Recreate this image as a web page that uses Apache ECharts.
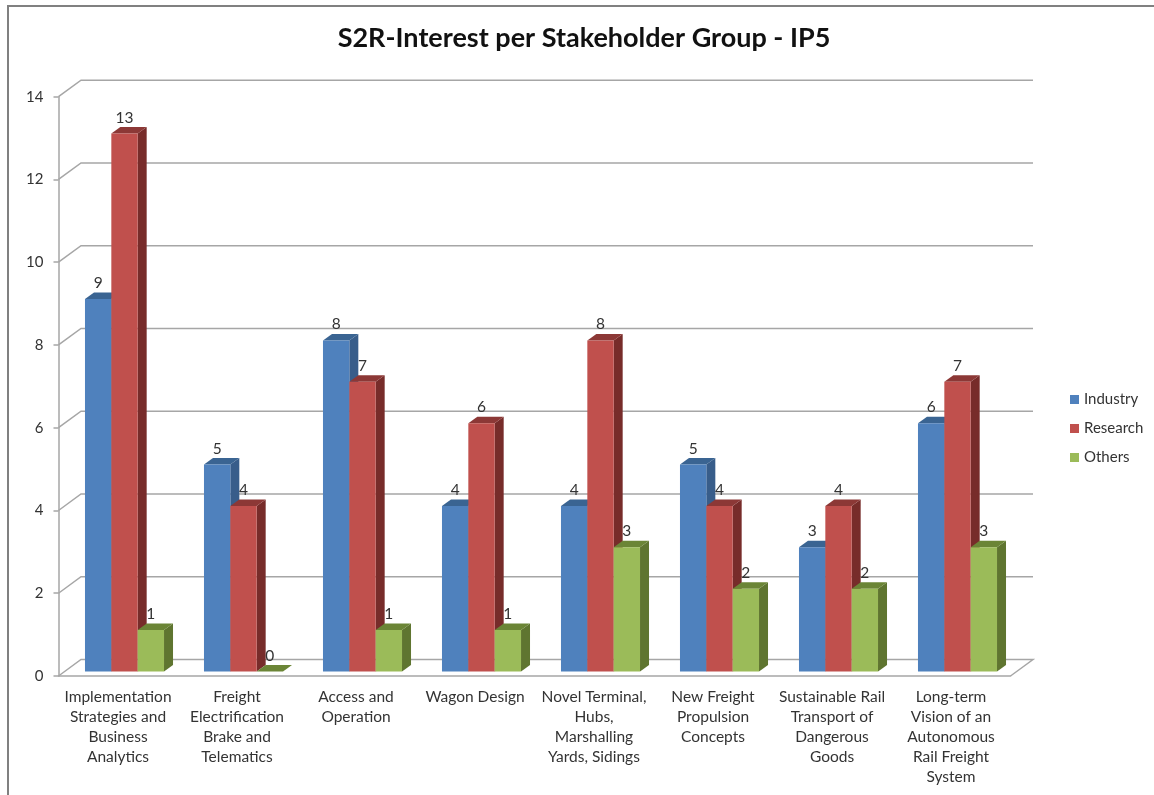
<!DOCTYPE html>
<html>
<head>
<meta charset="utf-8">
<title>S2R-Interest per Stakeholder Group - IP5</title>
<style>
    html, body { margin: 0; padding: 0; background: #fff; }
    #main { width: 1154px; height: 795px; }
</style>
<script src="https://cdn.jsdelivr.net/npm/echarts@6/dist/echarts.min.js"></script>
</head>
<body>
<div id="main"></div>
<script>
var categories = [
    'Implementation\nStrategies and\nBusiness\nAnalytics',
    'Freight\nElectrification\nBrake and\nTelematics',
    'Access and\nOperation',
    'Wagon Design',
    'Novel Terminal,\nHubs,\nMarshalling\nYards, Sidings',
    'New Freight\nPropulsion\nConcepts',
    'Sustainable Rail\nTransport of\nDangerous\nGoods',
    'Long-term\nVision of an\nAutonomous\nRail Freight\nSystem'
];
var industry = [9, 5, 8, 4, 4, 5, 3, 6];
var research = [13, 4, 7, 6, 8, 4, 4, 7];
var others = [1, 0, 1, 1, 3, 2, 2, 3];
var yTicks = [0, 2, 4, 6, 8, 10, 12, 14];

var chart = echarts.init(document.getElementById('main'));
var font = 'Lato';

// 3d look: wall sits behind the axis plane, bars have a small depth
var wallDx = 22.5, wallDy = -16.5;
var barDx = 9, barDy = -6.5;
var shiftX = 6.5, shiftY = -4.5;
var barRatio = 0.2214;

function barSeries(name, values, pos, front, side, top) {
    return {
        name: name,
        type: 'custom',
        itemStyle: { color: front },
        data: values.map(function (v, i) { return [i, v]; }),
        encode: { x: 0, y: 1 },
        z: 3,
        renderItem: function (params, api) {
            var base = api.coord([api.value(0), 0]);
            var head = api.coord([api.value(0), api.value(1)]);
            var w = api.size([1, 0])[0] * barRatio;
            var x0 = base[0] + shiftX + (pos - 1.5) * w;
            var x1 = x0 + w;
            var yb = base[1] + shiftY;
            var yt = head[1] + shiftY;
            return {
                type: 'group',
                children: [
                    {
                        type: 'polygon',
                        shape: { points: [[x1, yt], [x1 + barDx, yt + barDy], [x1 + barDx, yb + barDy], [x1, yb]] },
                        style: { fill: side }
                    },
                    {
                        type: 'polygon',
                        shape: { points: [[x0, yt], [x0 + barDx, yt + barDy], [x1 + barDx, yt + barDy], [x1, yt]] },
                        style: { fill: top }
                    },
                    {
                        type: 'rect',
                        shape: { x: x0, y: yt, width: w, height: yb - yt },
                        style: { fill: front }
                    },
                    {
                        type: 'text',
                        z2: 10,
                        style: {
                            x: (x0 + x1) / 2,
                            y: yt - 16,
                            text: String(api.value(1)),
                            align: 'center',
                            verticalAlign: 'middle',
                            font: '15.5px ' + font,
                            fill: '#333'
                        }
                    }
                ]
            };
        }
    };
}

var wallSeries = {
    type: 'custom',
    silent: true,
    z: 1,
    data: yTicks.map(function (v) { return [0, v]; }),
    encode: { x: 0, y: 1 },
    renderItem: function (params, api) {
        var y = api.coord([0, api.value(1)])[1];
        var left = params.coordSys.x;
        var right = left + params.coordSys.width;
        var pts = [[left, y], [left + wallDx, y + wallDy], [right + wallDx, y + wallDy]];
        if (api.value(1) === 0) {
            pts.push([right, y]);
        }
        return {
            type: 'polyline',
            shape: { points: pts },
            style: { fill: null, stroke: '#a6a6a6', lineWidth: 1.5 }
        };
    }
};

var option = {
    animation: false,
    backgroundColor: '#fff',
    title: {
        text: 'S2R-Interest per Stakeholder Group - IP5',
        left: 579,
        top: 20,
        textAlign: 'center',
        textStyle: { fontFamily: font, fontSize: 27, fontWeight: 'bold', color: '#111' }
    },
    legend: {
        data: ['Industry', 'Research', 'Others'],
        orient: 'vertical',
        left: 1070,
        top: 392,
        padding: 0,
        icon: 'rect',
        itemWidth: 9,
        itemHeight: 9,
        itemGap: 14,
        textStyle: { fontFamily: font, fontSize: 15, color: '#333' }
    },
    grid: { left: 58.5, top: 96.7, width: 952, height: 579.3 },
    xAxis: {
        type: 'category',
        data: categories,
        axisLine: { lineStyle: { color: '#a6a6a6', width: 1.5 } },
        axisTick: { length: 5, lineStyle: { color: '#a6a6a6', width: 1.5 } },
        axisLabel: {
            interval: 0,
            margin: 11,
            fontFamily: font,
            fontSize: 15.5,
            lineHeight: 20,
            color: '#333',
            verticalAlign: 'top'
        }
    },
    yAxis: {
        type: 'value',
        min: 0,
        max: 14,
        interval: 2,
        splitLine: { show: false },
        axisLine: { show: true, lineStyle: { color: '#a6a6a6', width: 1.5 } },
        axisTick: { show: true, length: 5, lineStyle: { color: '#a6a6a6', width: 1.5 } },
        axisLabel: { margin: 15, fontFamily: font, fontSize: 15, color: '#333', padding: [6, 0, 0, 0] }
    },
    graphic: [
        {
            type: 'polyline',
            silent: true,
            shape: { points: [[8, 795], [8, 6], [1154, 6]] },
            style: { fill: null, stroke: '#808080', lineWidth: 2 }
        }
    ],
    series: [
        wallSeries,
        barSeries('Industry', industry, 0, '#4f81bd', '#385d8a', '#3a6492'),
        barSeries('Research', research, 1, '#c0504d', '#772c2a', '#8c3836'),
        barSeries('Others', others, 2, '#9bbb59', '#5f7530', '#6b8536')
    ]
};
chart.setOption(option);
</script>
</body>
</html>
